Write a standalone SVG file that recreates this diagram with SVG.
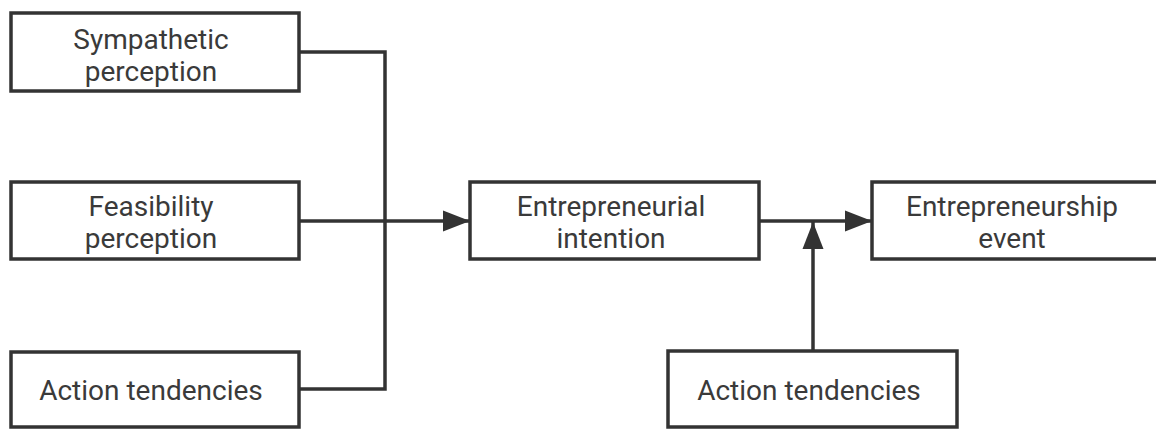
<svg xmlns="http://www.w3.org/2000/svg" width="1156" height="429" viewBox="0 0 1156 429">
<style>
.box{fill:#fff;stroke:#333;stroke-width:3.5}
.lbl{font-family:Roboto,"Liberation Sans",sans-serif;font-size:28px;fill:#3a3a3a;text-anchor:middle}
.conn{fill:none;stroke:#333;stroke-width:3.5}
</style>
<defs>
<marker id="arr" markerUnits="userSpaceOnUse" markerWidth="28" markerHeight="22" refX="27" refY="11" orient="auto">
<path d="M0,0.5 L27,11 L0,21.5 z" fill="#333"/>
</marker>
</defs>
<rect width="1156" height="429" fill="#fff"/>
<g id="connectors">
<polyline class="conn" points="299,52 385,52 385,389 299,389"/>
<line class="conn" x1="299" y1="221" x2="470" y2="221" marker-end="url(#arr)"/>
<line class="conn" x1="759" y1="221" x2="872" y2="221" marker-end="url(#arr)"/>
<line class="conn" x1="813" y1="351" x2="813" y2="222" marker-end="url(#arr)"/>
</g>
<g id="sympathetic">
<rect class="box" x="11" y="13" width="288" height="78"/>
<text class="lbl" x="151" y="49">Sympathetic</text>
<text class="lbl" x="151" y="81">perception</text>
</g>
<g id="feasibility">
<rect class="box" x="11" y="182" width="288" height="77"/>
<text class="lbl" x="151" y="216">Feasibility</text>
<text class="lbl" x="151" y="248">perception</text>
</g>
<g id="action1">
<rect class="box" x="11" y="352" width="288" height="75"/>
<text class="lbl" x="151" y="400">Action tendencies</text>
</g>
<g id="intention">
<rect class="box" x="470" y="182" width="289" height="77"/>
<text class="lbl" x="611" y="216">Entrepreneurial</text>
<text class="lbl" x="611" y="248">intention</text>
</g>
<g id="event">
<rect class="box" x="872" y="182" width="290" height="77"/>
<text class="lbl" x="1012" y="216">Entrepreneurship</text>
<text class="lbl" x="1012" y="248">event</text>
</g>
<g id="action2">
<rect class="box" x="668" y="351" width="289" height="76"/>
<text class="lbl" x="809" y="400">Action tendencies</text>
</g>
</svg>
